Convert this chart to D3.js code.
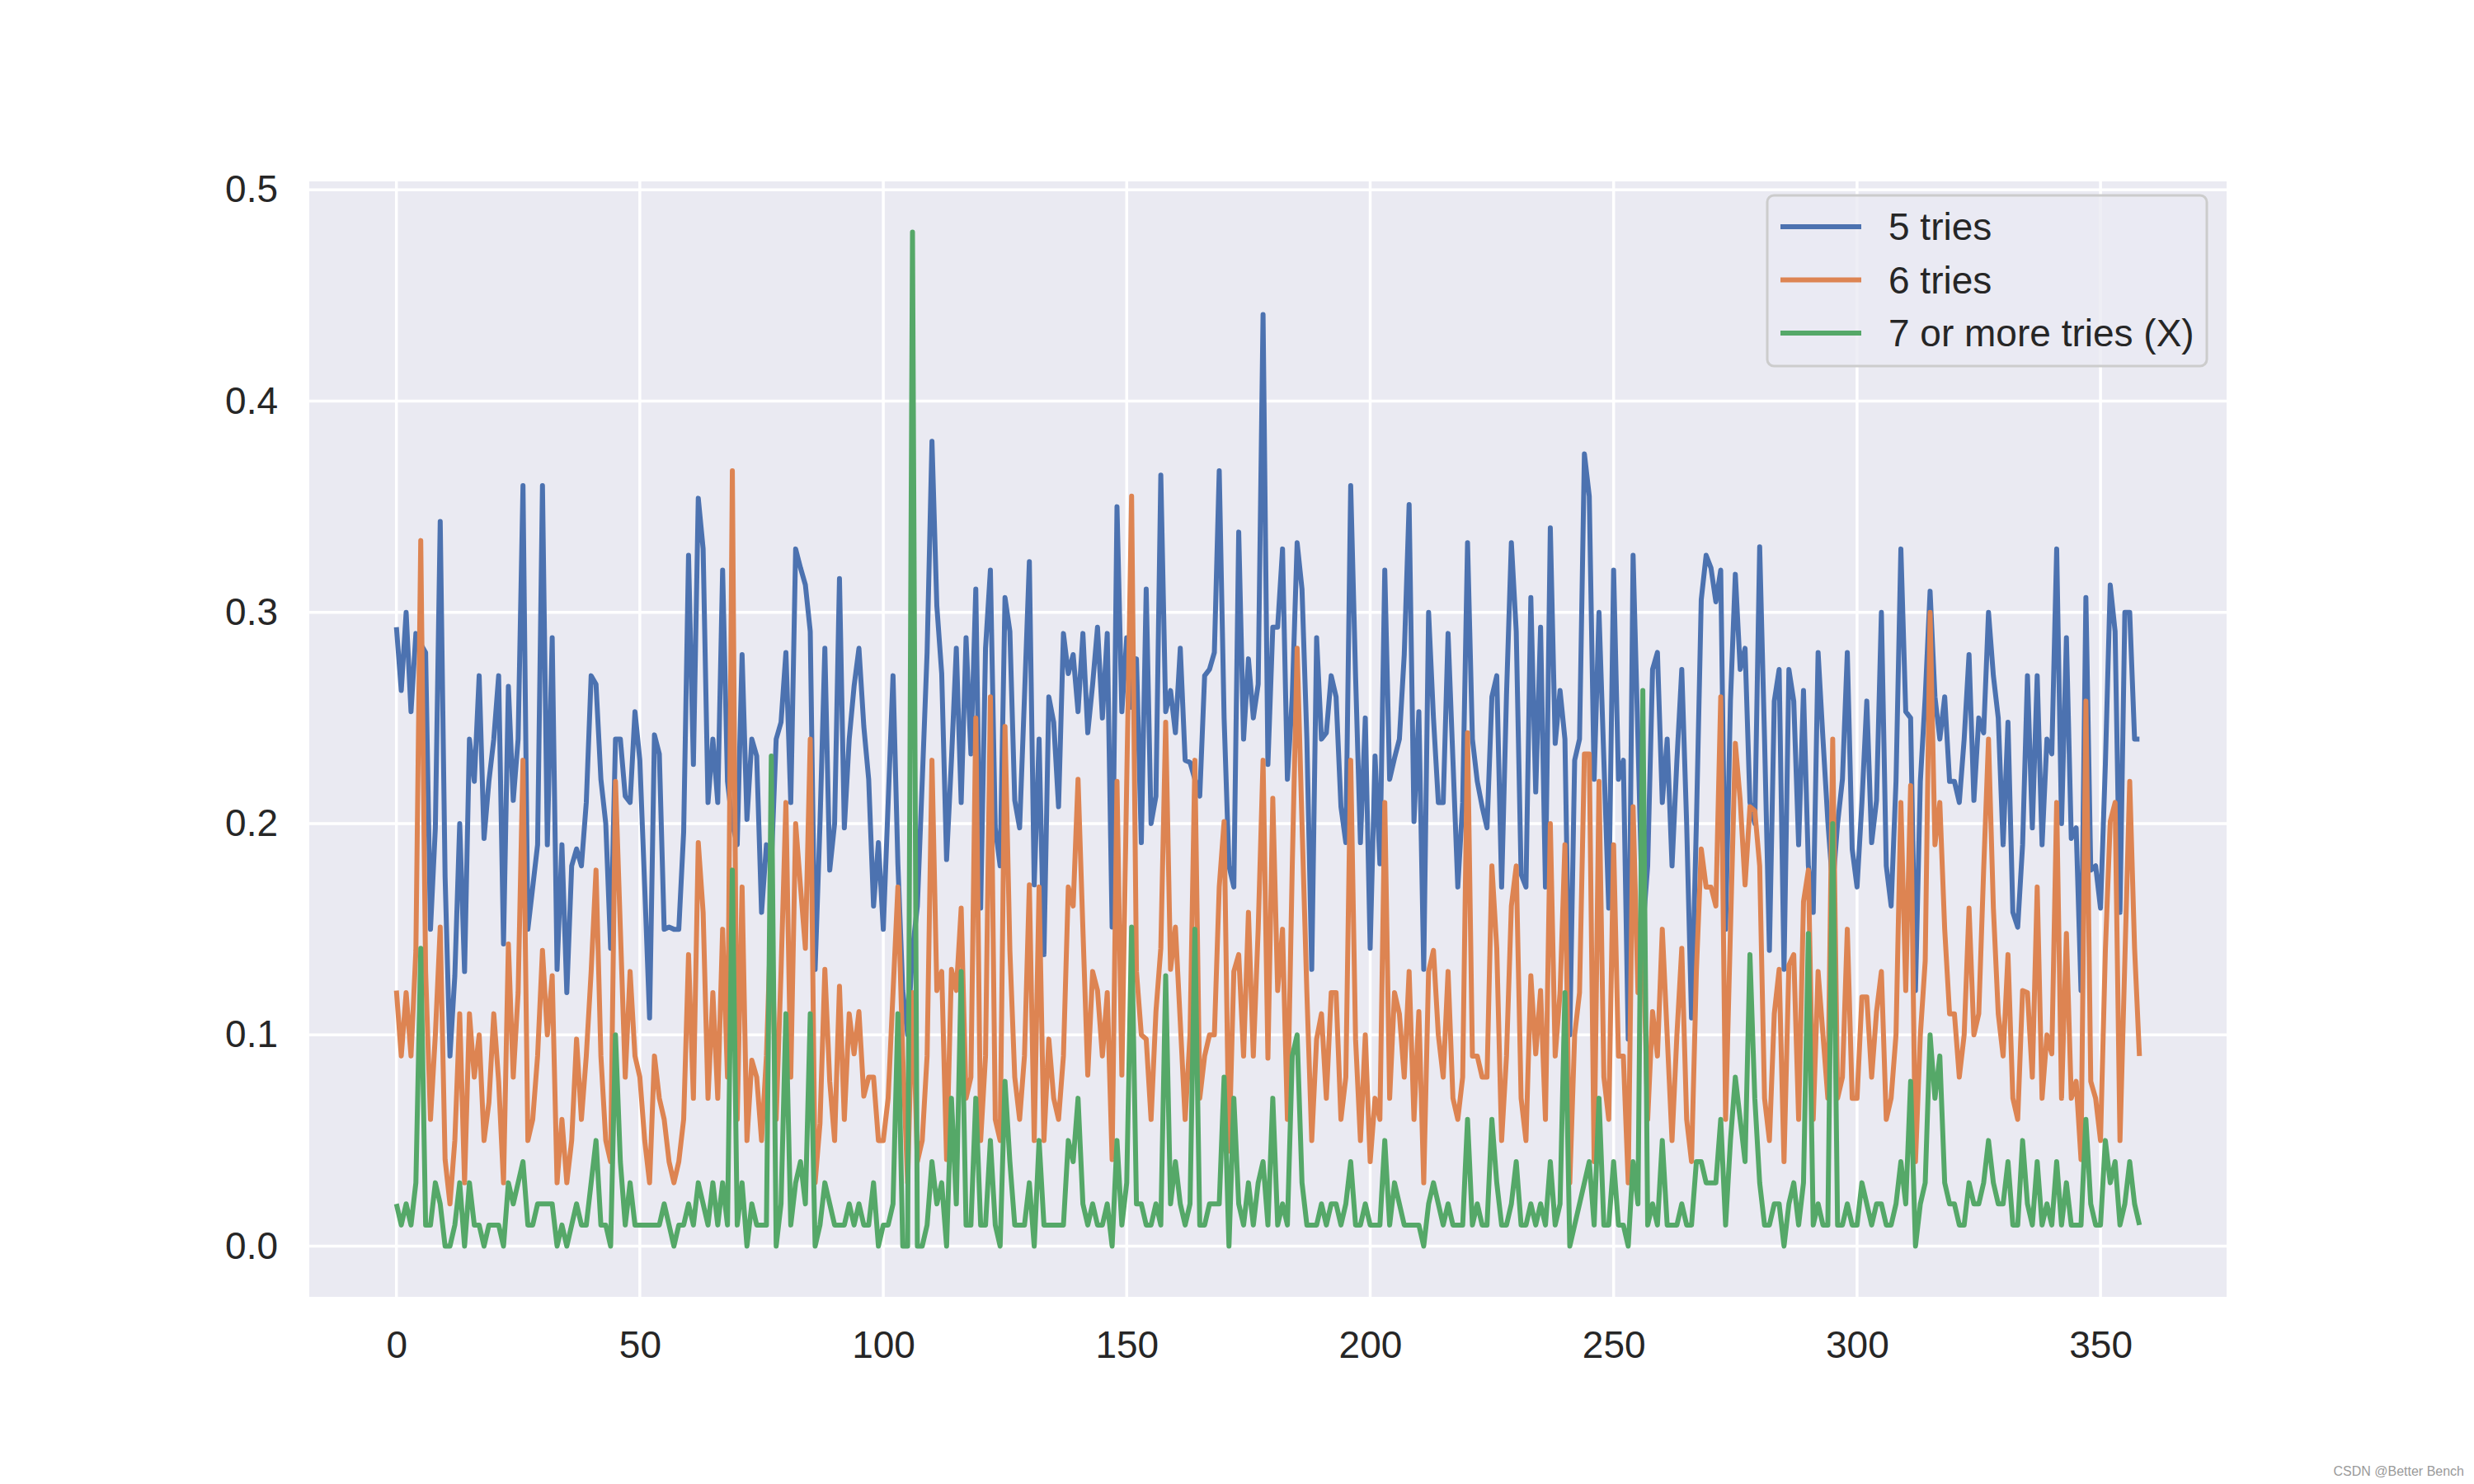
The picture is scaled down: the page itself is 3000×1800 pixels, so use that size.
<!DOCTYPE html>
<html>
<head>
<meta charset="utf-8">
<script src="https://cdn.jsdelivr.net/npm/d3@7/dist/d3.min.js"></script>
<style>
  html, body { margin: 0; padding: 0; background: #ffffff; }
  svg { display: block; }
</style>
</head>
<body>
<svg id="chart" width="3000" height="1800"></svg>
<script>
// ---------------- data ----------------
const seriesNames = ["5 tries", "6 tries", "7 or more tries (X)"];
const xTicks = [0, 50, 100, 150, 200, 250, 300, 350];
const yTicks = [0.0, 0.1, 0.2, 0.3, 0.4, 0.5];
const yTickLabels = ["0.0", "0.1", "0.2", "0.3", "0.4", "0.5"];

const fiveTries = [
0.293,0.263,0.300,0.253,0.290,0.285,0.281,0.150,0.198,0.343,0.175,0.090,0.128,0.200,0.130,0.240,0.220,0.270,0.193,0.220,
0.240,0.270,0.143,0.265,0.211,0.240,0.360,0.150,0.170,0.190,0.360,0.190,0.288,0.131,0.190,0.120,0.180,0.188,0.180,0.210,
0.270,0.266,0.221,0.200,0.141,0.240,0.240,0.213,0.210,0.253,0.230,0.170,0.108,0.242,0.233,0.150,0.151,0.150,0.150,0.196,
0.327,0.228,0.354,0.330,0.210,0.240,0.210,0.320,0.220,0.200,0.190,0.280,0.202,0.240,0.232,0.158,0.190,0.180,0.240,0.248,
0.281,0.210,0.330,0.321,0.313,0.291,0.131,0.200,0.283,0.178,0.200,0.316,0.198,0.240,0.265,0.283,0.246,0.221,0.161,0.191,
0.150,0.210,0.270,0.181,0.121,0.100,0.140,0.161,0.220,0.281,0.381,0.303,0.271,0.183,0.230,0.283,0.210,0.288,0.233,0.311,
0.160,0.283,0.320,0.198,0.180,0.307,0.291,0.211,0.198,0.260,0.324,0.171,0.240,0.138,0.260,0.248,0.208,0.290,0.271,0.280,
0.253,0.290,0.243,0.266,0.293,0.250,0.290,0.151,0.350,0.253,0.288,0.255,0.278,0.191,0.311,0.200,0.213,0.365,0.253,0.263,
0.243,0.283,0.230,0.229,0.221,0.213,0.270,0.273,0.281,0.367,0.250,0.180,0.170,0.338,0.240,0.278,0.250,0.266,0.441,0.228,
0.293,0.293,0.330,0.221,0.260,0.333,0.311,0.240,0.131,0.288,0.240,0.243,0.270,0.260,0.208,0.191,0.360,0.270,0.191,0.250,
0.141,0.232,0.181,0.320,0.221,0.231,0.240,0.280,0.351,0.201,0.253,0.131,0.300,0.250,0.210,0.210,0.290,0.230,0.170,0.210,
0.333,0.240,0.220,0.208,0.198,0.260,0.270,0.170,0.261,0.333,0.291,0.176,0.170,0.307,0.215,0.293,0.170,0.340,0.238,0.263,
0.240,0.100,0.230,0.240,0.375,0.355,0.221,0.300,0.230,0.160,0.320,0.221,0.230,0.098,0.327,0.240,0.150,0.180,0.273,0.281,
0.210,0.240,0.180,0.230,0.273,0.200,0.108,0.200,0.306,0.327,0.321,0.305,0.320,0.150,0.258,0.318,0.273,0.283,0.210,0.200,
0.331,0.240,0.140,0.258,0.273,0.131,0.273,0.258,0.190,0.263,0.180,0.158,0.281,0.240,0.201,0.170,0.200,0.221,0.281,0.188,
0.170,0.210,0.258,0.191,0.211,0.300,0.180,0.161,0.220,0.330,0.253,0.250,0.121,0.220,0.260,0.310,0.260,0.240,0.260,0.220,
0.220,0.210,0.240,0.280,0.211,0.250,0.243,0.300,0.270,0.250,0.190,0.248,0.158,0.151,0.190,0.270,0.198,0.270,0.190,0.240,
0.233,0.330,0.200,0.288,0.193,0.198,0.121,0.307,0.178,0.180,0.160,0.228,0.313,0.291,0.158,0.300,0.300,0.240,0.240
];

const sixTries = [
0.121,0.090,0.120,0.090,0.140,0.334,0.130,0.060,0.100,0.151,0.041,0.020,0.050,0.110,0.030,0.110,0.080,0.100,0.050,0.068,
0.110,0.078,0.030,0.143,0.080,0.120,0.230,0.050,0.060,0.090,0.140,0.100,0.128,0.030,0.060,0.030,0.050,0.098,0.060,0.090,
0.130,0.178,0.090,0.050,0.040,0.220,0.150,0.080,0.130,0.090,0.080,0.050,0.030,0.090,0.070,0.060,0.040,0.030,0.040,0.060,
0.138,0.070,0.191,0.158,0.070,0.120,0.070,0.150,0.080,0.367,0.060,0.170,0.050,0.088,0.080,0.050,0.090,0.160,0.060,0.130,
0.210,0.080,0.200,0.170,0.141,0.240,0.030,0.058,0.131,0.078,0.050,0.123,0.060,0.110,0.091,0.111,0.071,0.080,0.080,0.050,
0.050,0.070,0.120,0.170,0.090,0.030,0.120,0.040,0.050,0.090,0.230,0.121,0.130,0.041,0.131,0.121,0.160,0.070,0.080,0.250,
0.050,0.090,0.260,0.060,0.050,0.246,0.140,0.080,0.060,0.090,0.171,0.050,0.170,0.050,0.098,0.070,0.060,0.090,0.170,0.161,
0.221,0.150,0.081,0.130,0.121,0.090,0.120,0.041,0.220,0.081,0.220,0.355,0.130,0.100,0.098,0.060,0.111,0.141,0.248,0.131,
0.151,0.106,0.060,0.100,0.230,0.070,0.090,0.100,0.100,0.170,0.201,0.045,0.130,0.138,0.090,0.158,0.090,0.150,0.230,0.089,
0.212,0.121,0.150,0.060,0.180,0.283,0.200,0.120,0.050,0.098,0.110,0.070,0.120,0.120,0.060,0.080,0.230,0.098,0.050,0.100,
0.040,0.070,0.060,0.210,0.070,0.120,0.110,0.080,0.130,0.060,0.111,0.030,0.130,0.140,0.100,0.080,0.130,0.070,0.060,0.080,
0.243,0.090,0.090,0.080,0.080,0.180,0.141,0.050,0.090,0.161,0.180,0.070,0.050,0.128,0.091,0.121,0.060,0.200,0.090,0.120,
0.190,0.030,0.100,0.120,0.233,0.233,0.040,0.220,0.080,0.060,0.190,0.090,0.090,0.030,0.208,0.120,0.150,0.060,0.111,0.090,
0.150,0.100,0.050,0.100,0.141,0.060,0.040,0.130,0.188,0.170,0.170,0.161,0.260,0.060,0.150,0.238,0.211,0.171,0.208,0.206,
0.180,0.070,0.050,0.110,0.131,0.040,0.133,0.138,0.060,0.163,0.178,0.060,0.130,0.100,0.070,0.240,0.070,0.080,0.150,0.070,
0.070,0.118,0.118,0.080,0.111,0.130,0.060,0.070,0.100,0.210,0.121,0.218,0.040,0.100,0.135,0.300,0.190,0.210,0.150,0.110,
0.110,0.080,0.100,0.160,0.100,0.110,0.178,0.240,0.160,0.110,0.090,0.138,0.070,0.060,0.121,0.120,0.080,0.170,0.070,0.100,
0.091,0.210,0.070,0.148,0.070,0.078,0.041,0.258,0.078,0.070,0.050,0.140,0.201,0.210,0.050,0.135,0.220,0.141,0.090
];

const sevenPlus = [
0.020,0.010,0.020,0.010,0.030,0.141,0.010,0.010,0.030,0.020,0.000,0.000,0.010,0.030,0.000,0.030,0.010,0.010,0.000,0.010,
0.010,0.010,0.000,0.030,0.020,0.030,0.040,0.010,0.010,0.020,0.020,0.020,0.020,0.000,0.010,0.000,0.010,0.020,0.010,0.010,
0.030,0.050,0.010,0.010,0.000,0.100,0.040,0.010,0.030,0.010,0.010,0.010,0.010,0.010,0.010,0.020,0.010,0.000,0.010,0.010,
0.020,0.010,0.030,0.020,0.010,0.030,0.010,0.030,0.010,0.178,0.010,0.030,0.000,0.020,0.010,0.010,0.010,0.232,0.000,0.020,
0.110,0.010,0.030,0.040,0.020,0.110,0.000,0.010,0.030,0.020,0.010,0.010,0.010,0.020,0.010,0.020,0.010,0.010,0.030,0.000,
0.010,0.010,0.020,0.110,0.000,0.000,0.480,0.000,0.000,0.010,0.040,0.020,0.030,0.000,0.070,0.020,0.130,0.010,0.010,0.070,
0.010,0.010,0.050,0.010,0.000,0.078,0.040,0.010,0.010,0.010,0.030,0.000,0.050,0.010,0.010,0.010,0.010,0.010,0.050,0.040,
0.070,0.020,0.010,0.020,0.010,0.010,0.020,0.000,0.050,0.010,0.030,0.151,0.020,0.020,0.010,0.010,0.020,0.010,0.128,0.020,
0.040,0.020,0.010,0.020,0.150,0.010,0.010,0.020,0.020,0.020,0.080,0.000,0.070,0.020,0.010,0.030,0.010,0.030,0.040,0.010,
0.070,0.010,0.020,0.010,0.090,0.100,0.030,0.010,0.010,0.010,0.020,0.010,0.020,0.020,0.010,0.020,0.040,0.010,0.010,0.020,
0.010,0.010,0.010,0.050,0.010,0.030,0.020,0.010,0.010,0.010,0.010,0.000,0.020,0.030,0.020,0.010,0.020,0.010,0.010,0.010,
0.060,0.010,0.020,0.010,0.010,0.060,0.030,0.010,0.010,0.020,0.040,0.010,0.010,0.020,0.010,0.020,0.010,0.040,0.010,0.020,
0.120,0.000,0.010,0.020,0.030,0.040,0.010,0.070,0.010,0.010,0.040,0.010,0.010,0.000,0.040,0.020,0.263,0.010,0.020,0.010,
0.050,0.010,0.010,0.010,0.020,0.010,0.010,0.040,0.040,0.030,0.030,0.030,0.060,0.010,0.050,0.080,0.060,0.040,0.138,0.070,
0.030,0.010,0.010,0.020,0.020,0.000,0.020,0.030,0.010,0.030,0.148,0.010,0.020,0.010,0.010,0.200,0.010,0.010,0.020,0.010,
0.010,0.030,0.020,0.010,0.020,0.020,0.010,0.010,0.020,0.040,0.020,0.078,0.000,0.020,0.030,0.100,0.070,0.090,0.030,0.020,
0.020,0.010,0.010,0.030,0.020,0.020,0.030,0.050,0.030,0.020,0.020,0.040,0.010,0.010,0.050,0.020,0.010,0.040,0.010,0.020,
0.010,0.040,0.010,0.030,0.010,0.010,0.010,0.060,0.020,0.010,0.010,0.050,0.030,0.040,0.010,0.020,0.040,0.020,0.010
];

const seriesData = [fiveTries, sixTries, sevenPlus];
const colors = ["#4C72B0", "#DD8452", "#55A868"];

// ---------------- layout ----------------
const svg = d3.select("#chart");
const plot = { left: 375, right: 2700, top: 220, bottom: 1573 };
const textColor = "#262626";
const fontFamily = "'Liberation Sans', Arial, 'DejaVu Sans', sans-serif";
const fontSize = 46;

const nPts = fiveTries.length;
const xPad = (nPts - 1) * 0.05;
const yMax = d3.max(seriesData.flat());
const yPad = yMax * 0.05;

const x = d3.scaleLinear().domain([-xPad, (nPts - 1) + xPad]).range([plot.left, plot.right]);
const y = d3.scaleLinear().domain([0 - yPad, yMax + yPad]).range([plot.bottom, plot.top]);

// background
svg.append("rect")
  .attr("x", plot.left).attr("y", plot.top)
  .attr("width", plot.right - plot.left).attr("height", plot.bottom - plot.top)
  .attr("fill", "#EAEAF2");

// grid
const grid = svg.append("g");
grid.selectAll("line.vx").data(xTicks).join("line")
  .attr("x1", d => x(d)).attr("x2", d => x(d))
  .attr("y1", plot.top).attr("y2", plot.bottom)
  .attr("stroke", "#ffffff").attr("stroke-width", 3.5);
grid.selectAll("line.hy").data(yTicks).join("line")
  .attr("x1", plot.left).attr("x2", plot.right)
  .attr("y1", d => y(d)).attr("y2", d => y(d))
  .attr("stroke", "#ffffff").attr("stroke-width", 3.5);

// axes (tick labels only, seaborn darkgrid style)
const xAxis = d3.axisBottom(x).tickValues(xTicks).tickSize(0).tickPadding(0).tickFormat(d3.format("d"));
const gx = svg.append("g").attr("transform", `translate(0,${plot.bottom + 41})`).call(xAxis);
gx.select(".domain").remove();
gx.selectAll("text").attr("fill", textColor).attr("font-size", fontSize).attr("font-family", fontFamily)
  .attr("dy", "0.71em");

const yAxis = d3.axisLeft(y).tickValues(yTicks).tickSize(0).tickPadding(0)
  .tickFormat((d, i) => yTickLabels[i]);
const gy = svg.append("g").attr("transform", `translate(${plot.left - 38},0)`).call(yAxis);
gy.select(".domain").remove();
gy.selectAll("text").attr("fill", textColor).attr("font-size", fontSize).attr("font-family", fontFamily);

// lines
const line = d3.line().x((d, i) => x(i)).y(d => y(d));
const linesG = svg.append("g");
seriesData.forEach((arr, k) => {
  linesG.append("path")
    .datum(arr)
    .attr("d", line)
    .attr("fill", "none")
    .attr("stroke", colors[k])
    .attr("stroke-width", 6)
    .attr("stroke-linejoin", "round")
    .attr("stroke-linecap", "butt");
});

// legend
const leg = { x: 2143, y: 237, w: 533, h: 207 };
const lg = svg.append("g");
lg.append("rect")
  .attr("x", leg.x).attr("y", leg.y).attr("width", leg.w).attr("height", leg.h)
  .attr("rx", 8).attr("ry", 8)
  .attr("fill", "#EAEAF2").attr("fill-opacity", 0.8)
  .attr("stroke", "#CCCCCC").attr("stroke-width", 3);
seriesNames.forEach((name, k) => {
  const cy = leg.y + 38 + k * 64.5;
  lg.append("line")
    .attr("x1", leg.x + 16).attr("x2", leg.x + 114)
    .attr("y1", cy).attr("y2", cy)
    .attr("stroke", colors[k]).attr("stroke-width", 6);
  lg.append("text")
    .attr("x", leg.x + 147).attr("y", cy)
    .attr("dy", "0.35em")
    .attr("fill", textColor).attr("font-size", fontSize).attr("font-family", fontFamily)
    .text(name);
});

// watermark
svg.append("text")
  .attr("x", 2988).attr("y", 1790)
  .attr("text-anchor", "end")
  .attr("fill", "#9a9a9a").attr("font-size", 16).attr("font-family", fontFamily)
  .text("CSDN @Better Bench");
</script>
</body>
</html>
